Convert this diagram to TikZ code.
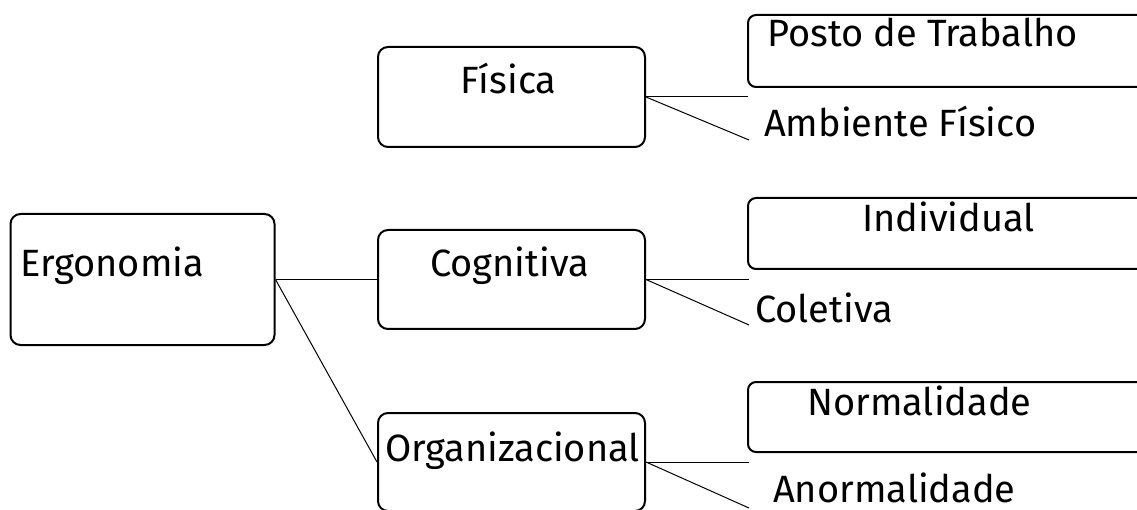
\documentclass[tikz,border=0pt]{standalone}
\usepackage{fontspec}
\setmainfont{Fira Sans}
\begin{document}
\begin{tikzpicture}[x=1pt,y=-1pt,
  bigbox/.style={draw,line width=2pt,rounded corners=10pt,inner sep=0pt},
  smallbox/.style={draw,line width=2pt,rounded corners=8pt,inner sep=0pt},
  lbl/.style={anchor=base west,inner sep=0pt,font=\fontsize{38}{40}\selectfont},
  conn/.style={line width=1pt}]
\useasboundingbox (0,0) rectangle (1137,510);
% boxes
\node[bigbox,minimum width=264pt,minimum height=131pt] (ergo) at (142.5,279.5) {};
\node[bigbox,minimum width=267pt,minimum height=100pt] (fis) at (511.5,97) {};
\node[bigbox,minimum width=267pt,minimum height=99pt] (cog) at (511.5,279.5) {};
\node[bigbox,minimum width=267pt,minimum height=98pt] (org) at (511.5,462) {};
\node[smallbox,minimum width=400pt,minimum height=72pt] (posto) at (948,51) {};
\node[smallbox,minimum width=400pt,minimum height=71pt] (indiv) at (948,233.5) {};
\node[smallbox,minimum width=400pt,minimum height=70pt] (norm) at (948,417) {};
% texts
\node[lbl] (tergo) at (20,277) {Ergonomia};
\node[lbl] (tfis) at (460,94) {Física};
\node[lbl] (tcog) at (430,277) {Cognitiva};
\node[lbl] (torg) at (385,461) {Organizacional};
\node[lbl] (tposto) at (767,47) {Posto de Trabalho};
\node[lbl] (tamb) at (764,137) {Ambiente Físico};
\node[lbl] (tindiv) at (862,232) {Individual};
\node[lbl] (tcol) at (755,323) {Coletiva};
\node[lbl] (tnorm) at (807,415) {Normalidade};
\node[lbl] (tanorm) at (773,502) {Anormalidade};
% free ends
\coordinate (f1) at (748,97);
\coordinate (f2) at (749,140);
\coordinate (c1) at (749,279.5);
\coordinate (c2) at (749,325);
\coordinate (o1) at (749,462);
\coordinate (o2) at (749,508);
% connectors
\draw[conn] (ergo.east) -- (cog.west);
\draw[conn] (ergo.east) -- (org.west);
\draw[conn] (fis.east) -- (f1);
\draw[conn] (fis.east) -- (f2);
\draw[conn] (cog.east) -- (c1);
\draw[conn] (cog.east) -- (c2);
\draw[conn] (org.east) -- (o1);
\draw[conn] (org.east) -- (o2);
\end{tikzpicture}
\end{document}
